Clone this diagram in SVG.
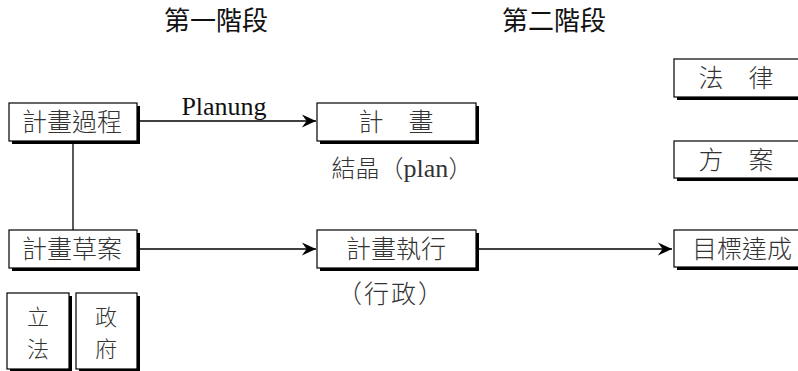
<svg xmlns="http://www.w3.org/2000/svg" width="798" height="371" viewBox="0 0 798 371">
<defs>
<style>
.bx{fill:#fff;stroke:#000;stroke-width:1.2}
.sh{fill:#000}
.t{font-family:"Noto Sans CJK TC","Noto Sans CJK SC",sans-serif;font-size:25px;font-weight:300;fill:#333;text-anchor:middle}
.h{font-family:"Noto Sans CJK TC","Noto Sans CJK SC",sans-serif;font-size:26px;fill:#111;text-anchor:middle}
.l{font-family:"Liberation Serif","Noto Sans CJK TC",serif;font-size:26px;fill:#111;text-anchor:middle}
.c{stroke:#000;stroke-width:1.3;fill:none}
.v{font-size:22px}
</style>
<marker id="ar" markerWidth="16" markerHeight="16" viewBox="-16 -8 17 16" refX="0" refY="0" orient="auto" markerUnits="userSpaceOnUse">
<path d="M0,0 L-15,-7 L-10,0 L-15,7 Z" fill="#000"/>
</marker>
</defs>
<rect width="798" height="371" fill="#fff"/>
<g id="headings">
<text class="h" x="216" y="30">第一階段</text>
<text class="h" x="554" y="30">第二階段</text>
</g>
<g id="connectors">
<line class="c" x1="137" y1="121" x2="316" y2="121" marker-end="url(#ar)"/>
<line class="c" x1="137" y1="249" x2="316" y2="249" marker-end="url(#ar)"/>
<line class="c" x1="476" y1="249" x2="672" y2="249" marker-end="url(#ar)"/>
<line class="c" x1="73" y1="141" x2="73" y2="230"/>
<text class="l" x="224" y="115">Planung</text>
</g>
<g id="n1">
<rect class="sh" x="12" y="106" width="128" height="38"/>
<rect class="bx" x="9" y="103" width="128" height="38"/>
<text class="t" x="72" y="131">計畫過程</text>
</g>
<g id="n2">
<rect class="sh" x="320" y="106" width="159" height="38"/>
<rect class="bx" x="317" y="103" width="159" height="38"/>
<text class="t" x="396" y="131">計　畫</text>
<text class="t" x="402" y="177" style="font-size:24px">結晶（<tspan style="font-family:'Liberation Serif',serif;font-size:26px;font-weight:400">plan</tspan>）</text>
</g>
<g id="n3">
<rect class="sh" x="12" y="233" width="128" height="38"/>
<rect class="bx" x="9" y="230" width="128" height="38"/>
<text class="t" x="72" y="258">計畫草案</text>
</g>
<g id="n4">
<rect class="sh" x="320" y="233" width="159" height="38"/>
<rect class="bx" x="317" y="230" width="159" height="38"/>
<text class="t" x="396" y="258">計畫執行</text>
<text class="t" x="391" y="303" style="font-size:25px;letter-spacing:2px">（行政）</text>
</g>
<g id="n5">
<rect class="sh" x="677" y="233" width="140" height="37"/>
<rect class="bx" x="674" y="230" width="140" height="37"/>
<text class="t" x="742" y="258">目標達成</text>
</g>
<g id="n6">
<rect class="sh" x="677" y="62" width="140" height="38"/>
<rect class="bx" x="674" y="59" width="140" height="38"/>
<text class="t" x="736" y="87">法　律</text>
</g>
<g id="n7">
<rect class="sh" x="677" y="144" width="140" height="37"/>
<rect class="bx" x="674" y="141" width="140" height="37"/>
<text class="t" x="736" y="169">方　案</text>
</g>
<g id="n8">
<rect class="sh" x="10" y="296" width="62" height="76"/>
<rect class="bx" x="7" y="293" width="62" height="76"/>
<text class="t v" x="38" y="325">立</text>
<text class="t v" x="38" y="357">法</text>
</g>
<g id="n9">
<rect class="sh" x="79" y="296" width="61" height="76"/>
<rect class="bx" x="76" y="293" width="61" height="76"/>
<text class="t v" x="106" y="325">政</text>
<text class="t v" x="106" y="357">府</text>
</g>
</svg>
